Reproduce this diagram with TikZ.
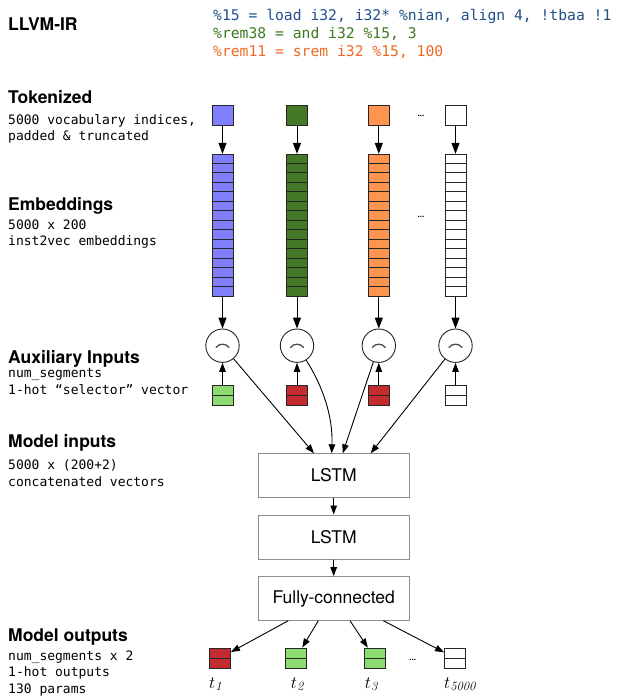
\documentclass[tikz,border=0pt]{standalone}
\usepackage{fontspec}
\setsansfont{TeX Gyre Heros}
\setmonofont{DejaVu Sans Mono}
\usetikzlibrary{arrows.meta,calc}
\definecolor{cblue}{HTML}{8080FF}
\definecolor{cdgreen}{HTML}{447726}
\definecolor{corange}{HTML}{FF9350}
\definecolor{cred}{HTML}{C42B2E}
\definecolor{clgreen}{HTML}{8CDB72}
\definecolor{codeblue}{HTML}{22508A}
\definecolor{codegreen}{HTML}{3D7A1F}
\definecolor{codeorange}{HTML}{EE6A24}
\tikzset{
  head/.style={anchor=base west, inner sep=0, font=\fontsize{17.5}{20}\sffamily\bfseries},
  desc/.style={anchor=base west, inner sep=0, font=\fontsize{13}{16}\ttfamily},
  code/.style={anchor=base west, inner sep=0, font=\fontsize{14.7}{18}\ttfamily},
  cell/.style={draw=black!85, line width=0.9, minimum width=21, minimum height=20, inner sep=0},
  half/.style={draw=black!85, line width=0.9, minimum width=21, minimum height=20, inner sep=0,
    path picture={\draw[black!85, line width=0.9] (path picture bounding box.west) -- (path picture bounding box.east);}},
  embcol/.style={draw=black!85, line width=0.9, minimum width=21, minimum height=142.4, inner sep=0},
  mult/.style={circle, draw=black!85, line width=0.9, minimum size=33.4, inner sep=0},
  frownarc/.style={draw=black!70, line width=1.3, line cap=round},
  layer/.style={draw=black!45, line width=0.8, minimum width=150.7, minimum height=44.2, inner sep=0,
    font=\fontsize{17.5}{20}\sffamily},
  arr/.style={line width=0.9, -{Triangle[length=9,width=6.5]}},
  bigarr/.style={line width=0.9, -{Triangle[length=11,width=8]}},
  dots/.style={inner sep=0, font=\fontsize{8}{8}\sffamily\bfseries},
  tlab/.style={anchor=base west, inner sep=0, font=\fontsize{18}{20}\selectfont},
}
\begin{document}
\begin{tikzpicture}[x=1pt,y=-1pt]
\useasboundingbox[fill=white] (0,0) rectangle (617,697);

% left labels
\node[head] (hllvm) at (8,30) {LLVM-IR};
\node[code, text=codeblue] (code1) at (213,20) {\%15 = load i32, i32* \%nian, align 4, !tbaa !1};
\node[code, text=codegreen] (code2) at (213,38.3) {\%rem38 = and i32 \%15, 3};
\node[code, text=codeorange] (code3) at (213,56.7) {\%rem11 = srem i32 \%15, 100};

\node[head] (htok) at (8,103.5) {Tokenized};
\node[desc] (dtok1) at (8,124) {5000 vocabulary indices,};
\node[desc] (dtok2) at (8,140.5) {padded \& truncated};

\node[head] (hemb) at (8,210) {Embeddings};
\node[desc] (demb1) at (8,229) {5000 x 200};
\node[desc] (demb2) at (8,245.5) {inst2vec embeddings};

\node[head] (haux) at (8,363.3) {Auxiliary Inputs};
\node[desc] (daux1) at (8,377.5) {num\_segments};
\node[desc] (daux2) at (8,394) {1-hot “selector” vector};

\node[head] (hin) at (8,447) {Model inputs};
\node[desc] (din1) at (8,469) {5000 x (200+2)};
\node[desc] (din2) at (8,486) {concatenated vectors};

\node[head] (hout) at (8,641.7) {Model outputs};
\node[desc] (dout1) at (8,660) {num\_segments x 2};
\node[desc] (dout2) at (8,676.7) {1-hot outputs};
\node[desc] (dout3) at (8,693.3) {130 params};

% columns
\foreach \i/\x/\c/\a in {1/222.5/cblue/clgreen, 2/297/cdgreen/cred, 3/378.8/corange/cred, 4/455.5/white/white}{
  \node[cell, fill=\c] (tk\i) at (\x,115.5) {};
  \node[embcol, fill=\c] (em\i) at (\x,225.5) {};
  \foreach \k in {1,...,14}{
    \draw[black!85, line width=0.9] ($(em\i.north west)+(0,9.493*\k)$) -- ($(em\i.north east)+(0,9.493*\k)$);
  }
  \node[mult] (ci\i) at (\x,345.7) {};
  \draw[frownarc] ($(ci\i)+(-6.5,1.8)$) .. controls ($(ci\i)+(-3.5,-2.6)$) and ($(ci\i)+(3.5,-2.6)$) .. ($(ci\i)+(6.5,1.8)$);
  \node[half, fill=\a] (ax\i) at (\x,395) {};
  \draw[bigarr] (tk\i) -- (em\i);
  \draw[bigarr] (em\i) -- (ci\i);
  \draw[arr] (ax\i) -- (ci\i);
}
\node[dots] (dt1) at (421,116) {...};
\node[dots] (dt2) at (421,217) {...};

% network
\node[layer] (l1) at (333.7,475.5) {LSTM};
\node[layer] (l2) at (333.7,537) {LSTM};
\node[layer] (fc) at (333.7,598.7) {Fully-connected};

\coordinate (in1) at (314,453.3);
\coordinate (in2) at (331.7,453.3);
\coordinate (in3) at (342.7,453.3);
\coordinate (in4) at (370.7,453.3);
\draw[arr] (ci1) -- (in1);
\draw[arr] (ci2) .. controls (322,385) and (333,415) .. (in2);
\draw[arr] (ci3) -- (in3);
\draw[arr] (ci4) -- (in4);
\draw[arr] (l1) -- (l2);
\draw[arr] (l2) -- (fc);

% outputs
\node[half, fill=cred] (o1) at (220,658) {};
\node[half, fill=clgreen] (o2) at (296,658) {};
\node[half, fill=clgreen] (o3) at (374.7,658) {};
\node[half, fill=white] (o4) at (455,658) {};
\node[dots] (dt3) at (412.7,660) {...};
\coordinate (f1) at (288.3,620.7);
\coordinate (f2) at (318.3,620.7);
\coordinate (f3) at (350,620.7);
\coordinate (f4) at (383.3,620.7);
\draw[arr] (f1) -- (o1);
\draw[arr] (f2) -- (o2);
\draw[arr] (f3) -- (o3);
\draw[arr] (f4) -- (o4);

\node[tlab] (t1) at (209,688) {$t_{\mathit{1}}$};
\node[tlab] (t2) at (290.7,688) {$t_{\mathit{2}}$};
\node[tlab] (t3) at (364.7,688) {$t_{\mathit{3}}$};
\node[tlab] (t4) at (444,688) {$t_{\mathit{5000}}$};
\end{tikzpicture}
\end{document}
